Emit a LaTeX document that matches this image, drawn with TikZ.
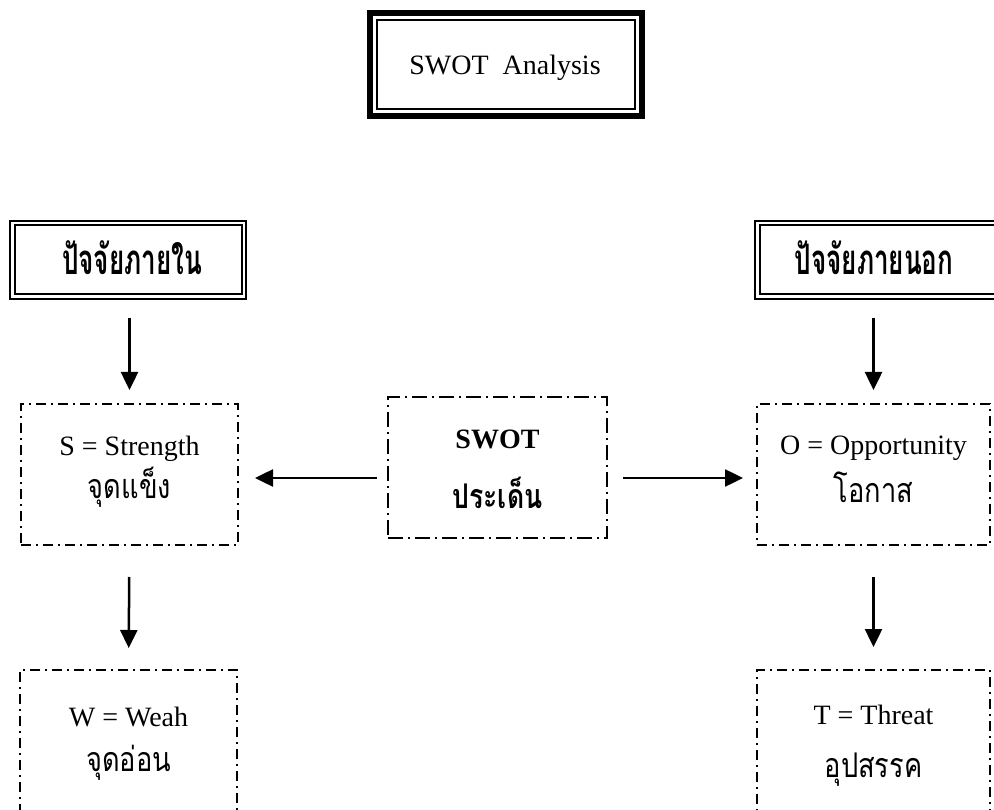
\documentclass[tikz,border=0pt]{standalone}
\usepackage{fontspec}
\setmainfont{Liberation Serif}
\newfontfamily\thaireg[Script=Thai,FakeStretch=0.8]{Loma}
\newfontfamily\thaibold[Script=Thai,FakeStretch=0.62]{Loma Bold}
\newfontfamily\thaiboldc[Script=Thai,FakeStretch=0.78]{Loma Bold}
\usetikzlibrary{arrows.meta}
\begin{document}
\begin{tikzpicture}[x=1pt,y=-1pt,
  lat/.style={anchor=base,inner sep=0pt,font=\fontsize{28}{34}\selectfont},
  latb/.style={anchor=base,inner sep=0pt,font=\bfseries\fontsize{28}{34}\selectfont},
  thr/.style={anchor=base,inner sep=0pt,font=\thaireg\fontsize{34}{40}\selectfont},
  thb/.style={anchor=base,inner sep=0pt,font=\thaiboldc\fontsize{34}{40}\selectfont},
  thh/.style={anchor=base,inner sep=0pt,font=\thaibold\fontsize{42}{46}\selectfont},
  titlebox/.style={draw,line width=6pt,outer sep=0pt,inner sep=0pt,minimum width=272pt,minimum height=103pt},
  hdrbox/.style={draw,line width=2.5pt,outer sep=0pt,inner sep=0pt,minimum width=236pt,minimum height=78pt},
  ddbox/.style={draw,line width=1.5pt,dash pattern=on 10pt off 5pt on 2pt off 5pt,outer sep=0pt,inner sep=0pt,minimum width=217pt,minimum height=141pt},
  centbox/.style={draw,line width=2pt,dash pattern=on 15pt off 5pt on 2pt off 5pt,outer sep=0pt,inner sep=0pt,minimum width=219pt,minimum height=141pt},
  arr/.style={line width=2.5pt,-{Triangle[length=18pt,width=17pt]}}
]
\useasboundingbox (0,0) rectangle (994,810);
% title
\node[titlebox] (title) at (506,64.5) {};
\draw[line width=2pt] ([shift={(7,7)}]title.north west) rectangle ([shift={(-7,-7)}]title.south east);
\node[lat] (titlet) at (505,75) {SWOT~~Analysis};
% headers
\node[hdrbox] (hl) at (128,260) {};
\draw[line width=2pt] ([shift={(4.5,4.5)}]hl.north west) rectangle ([shift={(-4.5,-4.5)}]hl.south east);
\node[thh] (hlt) at (132,275) {ปัจจัยภายใน};
\node[hdrbox,minimum width=250pt] (hr) at (880,260) {};
\draw[line width=2pt] ([shift={(4.5,4.5)}]hr.north west) rectangle ([shift={(-4.5,-4.5)}]hr.south east);
\node[thh] (hrt) at (874,275) {ปัจจัยภายนอก};
% boxes
\node[ddbox] (s) at (129.5,474.5) {};
\node[lat] (st) at (129.5,456) {S = Strength};
\node[thr] (sth) at (129.5,498) {จุดแข็ง};
\node[ddbox,minimum height=180pt] (w) at (128.5,760) {};
\node[lat] (wt) at (128.5,726) {W = Weah};
\node[thr] (wth) at (128.5,771) {จุดอ่อน};
\node[ddbox,minimum width=233pt] (o) at (873.5,474.5) {};
\node[lat] (ot) at (873.5,454) {O = Opportunity};
\node[thr] (oth) at (873.5,502) {โอกาส};
\node[ddbox,minimum width=233pt,minimum height=180pt] (t) at (873.5,760) {};
\node[lat] (tt) at (873.5,724) {T = Threat};
\node[thr] (tth) at (873.5,777) {อุปสรรค};
\node[centbox] (c) at (497.5,467.5) {};
\node[latb] (ct) at (497.5,449) {SWOT};
\node[thb] (cth) at (497.5,508) {ประเด็น};
% arrows
\draw[arr,shorten <=19pt,shorten >=14pt] (hl.south -| s.north) -- (s.north);
\draw[arr,shorten <=19pt,shorten >=14pt] (hr.south -| o.north) -- (o.north);
\draw[arr,shorten <=32pt,shorten >=22pt] (s.south) -- (w.north);
\draw[arr,shorten <=32pt,shorten >=23pt] (o.south) -- (t.north);
\draw[arr,shorten <=11pt,shorten >=17pt] ([yshift=-10.5pt]c.west) -- ([yshift=-10.5pt]c.west -| s.east);
\draw[arr,shorten <=16pt,shorten >=14pt] ([yshift=-10.5pt]c.east) -- ([yshift=-10.5pt]c.east -| o.west);
\end{tikzpicture}
\end{document}
